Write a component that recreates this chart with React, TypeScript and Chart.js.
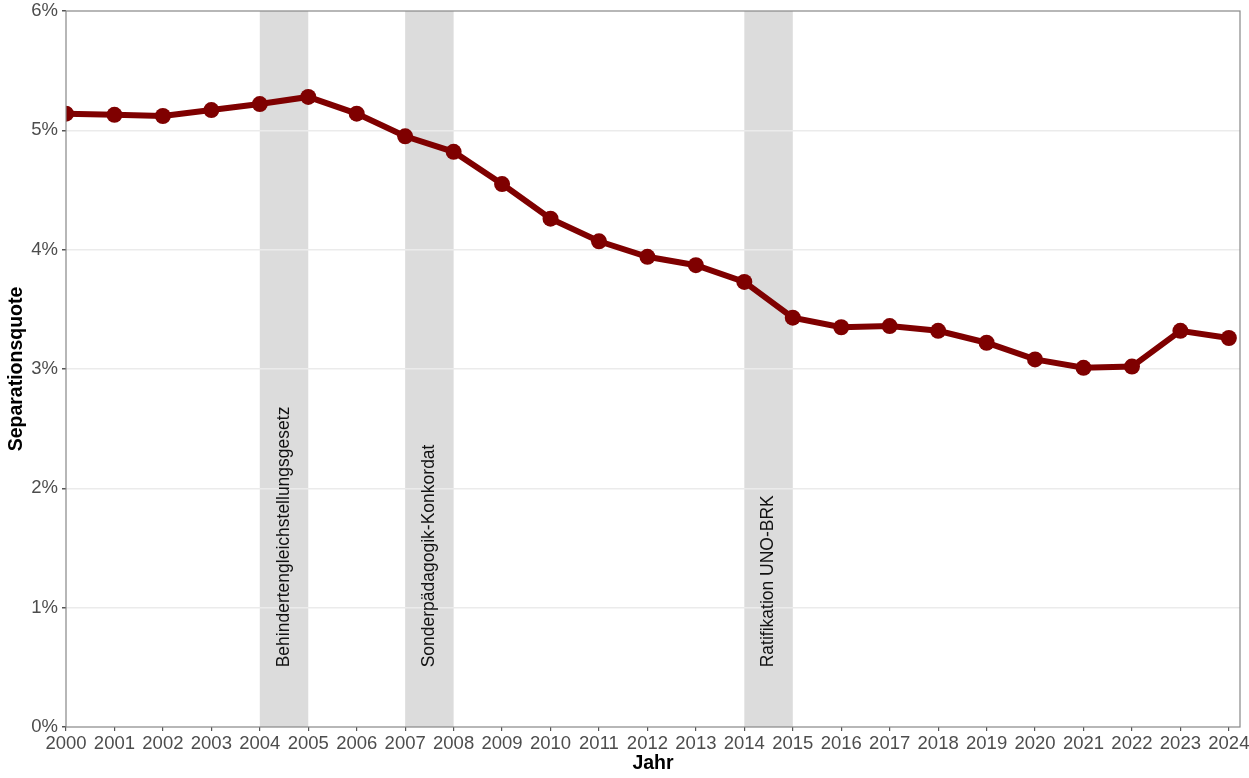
import React, { useEffect, useRef } from "react";
import { Chart, registerables } from "chart.js";

Chart.register(...registerables);

const years: number[] = [2000, 2001, 2002, 2003, 2004, 2005, 2006, 2007, 2008, 2009, 2010, 2011, 2012, 2013, 2014, 2015, 2016, 2017, 2018, 2019, 2020, 2021, 2022, 2023, 2024];
const quote: number[] = [5.14, 5.13, 5.12, 5.17, 5.22, 5.28, 5.14, 4.95, 4.82, 4.55, 4.26, 4.07, 3.94, 3.87, 3.73, 3.43, 3.35, 3.36, 3.32, 3.22, 3.08, 3.01, 3.02, 3.32, 3.26];
const yTicks: number[] = [0, 1, 2, 3, 4, 5, 6];
const bandStarts: number[] = [2004, 2007, 2014];
const bandEnds: number[] = [2005, 2008, 2015];
const bandLabels: string[] = ["Behindertengleichstellungsgesetz", "Sonderpädagogik-Konkordat", "Ratifikation UNO-BRK"];

const FONT = "'Liberation Sans', Arial, Helvetica, sans-serif";

const bandsPlugin = {
  id: "bands",
  beforeDraw(chart: any) {
    const { ctx, chartArea, scales } = chart;
    const x = scales.x;
    ctx.save();
    for (let i = 0; i < bandStarts.length; i++) {
      const x0 = x.getPixelForValue(bandStarts[i]);
      const x1 = x.getPixelForValue(bandEnds[i]);
      ctx.fillStyle = "#dcdcdc";
      ctx.fillRect(x0, chartArea.top, x1 - x0, chartArea.bottom - chartArea.top);
    }
    ctx.restore();
  },
  afterDraw(chart: any) {
    const { ctx, chartArea, scales } = chart;
    const x = scales.x;
    const y = scales.y;
    ctx.save();
    for (let i = 0; i < bandStarts.length; i++) {
      const cx = (x.getPixelForValue(bandStarts[i]) + x.getPixelForValue(bandEnds[i])) / 2;
      const by = y.getPixelForValue(0.5);
      ctx.save();
      ctx.translate(cx, by);
      ctx.rotate(-Math.PI / 2);
      ctx.font = `17.5px ${FONT}`;
      ctx.fillStyle = "#111";
      ctx.textAlign = "left";
      ctx.textBaseline = "middle";
      ctx.fillText(bandLabels[i], 0, 0);
      ctx.restore();
    }
    ctx.strokeStyle = "#888";
    ctx.lineWidth = 1.2;
    ctx.strokeRect(chartArea.left, chartArea.top, chartArea.right - chartArea.left, chartArea.bottom - chartArea.top);
    ctx.restore();
  },
};

export default function App() {
  const ref = useRef<HTMLCanvasElement | null>(null);
  useEffect(() => {
    if (!ref.current) return;
    const chart = new Chart(ref.current, {
      type: "line",
      data: {
        datasets: [
          {
            data: years.map((yr, i) => ({ x: yr, y: quote[i] })),
            borderColor: "#7f0000",
            backgroundColor: "#7f0000",
            borderWidth: 6,
            pointRadius: 8,
            pointBackgroundColor: "#7f0000",
            pointBorderColor: "#7f0000",
            pointBorderWidth: 0,
            tension: 0,
            clip: 0,
          } as any,
        ],
      },
      options: {
        animation: false,
        responsive: true,
        maintainAspectRatio: false,
        layout: { padding: { top: 11, right: 9, left: 0, bottom: 0 } },
        plugins: { legend: { display: false }, tooltip: { enabled: false } },
        scales: {
          x: {
            type: "linear",
            min: 2000,
            max: 2024.23,
            afterBuildTicks: (s: any) => {
              s.ticks = years.map((v) => ({ value: v }));
            },
            afterFit: (s: any) => {
              s.height = 51;
              s.paddingLeft = 0;
              s.paddingRight = 0;
            },
            ticks: {
              autoSkip: false,
              maxRotation: 0,
              padding: 2,
              color: "#4d4d4d",
              font: { family: FONT, size: 18.5 },
              callback: (v: any) => String(v),
            },
            grid: { drawOnChartArea: false, tickLength: 4, tickColor: "#555", lineWidth: 1.2 },
            border: { display: false },
            title: {
              display: true,
              text: "Jahr",
              color: "#000",
              font: { family: FONT, size: 19.5, weight: "bold" },
              padding: { top: 0, bottom: 3 },
            },
          },
          y: {
            type: "linear",
            min: 0,
            max: 6,
            afterBuildTicks: (s: any) => {
              s.ticks = yTicks.map((v) => ({ value: v }));
            },
            afterFit: (s: any) => {
              s.width = 66;
              s.paddingTop = 0;
              s.paddingBottom = 0;
            },
            ticks: {
              padding: 4,
              color: "#4d4d4d",
              font: { family: FONT, size: 18.5 },
              callback: (v: any) => `${v}%`,
            },
            grid: {
              color: (c: any) => (c.tick && (c.tick.value === 0 || c.tick.value === 6) ? "rgba(0,0,0,0)" : "#ebebeb"),
              lineWidth: 1.5,
              tickLength: 4,
              tickColor: "#555",
            },
            border: { display: false },
            title: {
              display: true,
              text: "Separationsquote",
              color: "#000",
              font: { family: FONT, size: 19.5, weight: "bold" },
              padding: { top: 5, bottom: 0 },
            },
          },
        },
      },
      plugins: [bandsPlugin],
    });
    return () => chart.destroy();
  }, []);
  return (
    <div style={{ position: "fixed", left: 0, top: 0, width: 1249, height: 778 }}>
      <canvas ref={ref} />
    </div>
  );
}
